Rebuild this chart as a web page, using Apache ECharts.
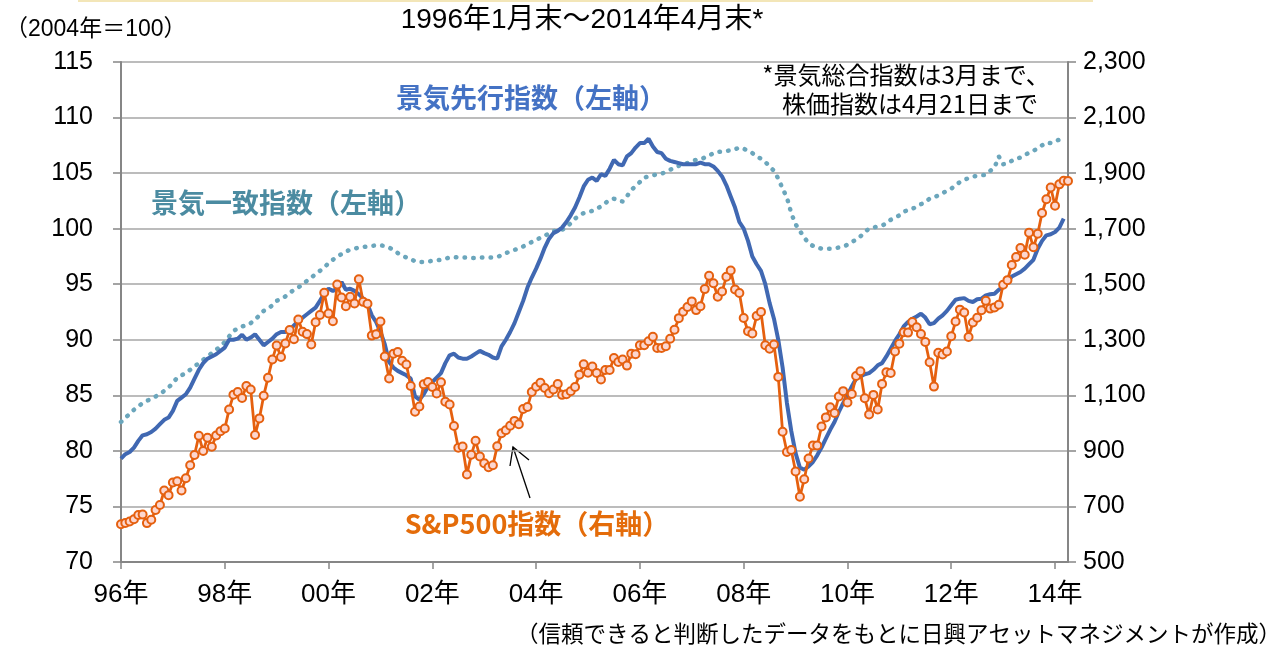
<!DOCTYPE html>
<html>
<head>
<meta charset="utf-8">
<script src="https://cdn.jsdelivr.net/npm/echarts@6/dist/echarts.min.js"></script>
<style>
  html, body { margin: 0; padding: 0; background: #fff; }
  #chart { width: 1285px; height: 647px; }
</style>
</head>
<body>
<div id="chart"></div>
<script>
// months 1996/01 .. 2014/04
const months = [];
for (let y = 1996; y <= 2014; y++) {
  for (let m = 1; m <= 12; m++) {
    if (y === 2014 && m > 4) break;
    months.push(y + '/' + (m < 10 ? '0' + m : m));
  }
}

// Leading index (2004=100), to 2014/03
const leading = [
  79.3, 79.7, 79.9, 80.3, 80.9, 81.4, 81.5, 81.7, 82.0, 82.4, 82.8, 83.0,
  83.6, 84.5, 84.8, 85.1, 85.7, 86.5, 87.3, 87.9, 88.3, 88.5, 88.7, 89.0,
  89.3, 90.0, 90.0, 90.1, 90.45, 90.0, 90.2, 90.5, 90.0, 89.5, 89.8, 90.1,
  90.5, 90.7, 90.7, 90.9, 91.3, 91.7, 92.0, 92.3, 92.6, 92.9, 93.5, 94.2,
  94.6, 94.4, 94.6, 95.2, 94.5, 94.6, 94.4, 94.1, 93.7, 93.2, 92.2, 91.6,
  90.7, 89.6, 88.0, 87.5, 87.2, 87.0, 86.8, 86.5, 84.9, 84.6, 85.1, 85.8,
  86.2, 86.6, 87.0, 87.9, 88.6, 88.75, 88.4, 88.3, 88.3, 88.5, 88.75, 89.0,
  88.8, 88.65, 88.4, 88.3, 89.4, 90.0, 90.7, 91.5, 92.5, 93.5, 94.7, 95.6,
  96.4, 97.3, 98.3, 99.1, 99.6, 99.8, 100.1, 100.6, 101.2, 101.9, 102.8, 103.8,
  104.4, 104.6, 104.3, 104.9, 104.75, 105.4, 106.2, 105.8, 105.7, 106.5, 106.8, 107.3,
  107.7, 107.7, 108.1, 107.4, 106.9, 106.8, 106.3, 106.1, 106.0, 105.9, 105.8, 105.8,
  105.8, 105.8, 105.95, 105.8, 105.8, 105.6, 105.2, 104.7, 103.9, 102.9, 101.9, 100.6,
  100.0, 98.9, 97.5, 96.8, 96.2, 95.0, 93.3, 91.9, 90.0, 87.5, 84.3, 81.8,
  79.8, 78.5, 78.3, 78.6, 79.0, 79.6, 80.3, 81.1, 81.9, 82.6, 83.5, 84.3,
  85.0, 85.8, 86.5, 86.7, 86.9, 87.0, 87.3, 87.7, 87.9, 88.5, 89.2, 89.9,
  90.5, 91.2, 91.6, 91.9, 92.1, 92.35, 92.0, 91.4, 91.5, 91.9, 92.2, 92.6,
  93.1, 93.6, 93.7, 93.75, 93.5, 93.4, 93.65, 93.7, 94.0, 94.1, 94.15, 94.5,
  94.8, 95.2, 95.7, 95.9, 96.1, 96.4, 96.8, 97.2, 98.2, 98.9, 99.4, 99.5,
  99.7, 100.1, 100.9
];

// Coincident index (2004=100), to 2014/03
const coincident = [
  82.6, 83.0, 83.3, 83.7, 84.0, 84.3, 84.5, 84.7, 84.9, 85.1, 85.4, 85.7,
  86.1, 86.6, 86.8, 87.0, 87.3, 87.6, 87.9, 88.2, 88.5, 88.8, 89.1, 89.4,
  89.8, 90.3, 90.8, 91.0, 91.2, 91.3, 91.5, 91.8, 92.2, 92.6, 92.8, 93.1,
  93.5, 93.7, 93.9, 94.2, 94.5, 94.7, 95.0, 95.3, 95.6, 95.9, 96.2, 96.5,
  96.9, 97.2, 97.5, 97.7, 97.95, 98.1, 98.2, 98.3, 98.35, 98.4, 98.45, 98.5,
  98.5, 98.45, 98.3, 98.1, 97.8, 97.6, 97.4, 97.3, 97.05, 97.0, 97.0, 97.05,
  97.1, 97.15, 97.2, 97.3, 97.4, 97.45, 97.4, 97.4, 97.4, 97.35, 97.35, 97.4,
  97.4, 97.4, 97.4, 97.45, 97.6, 97.8, 97.95, 98.1, 98.2, 98.4, 98.6, 98.8,
  98.95, 99.2, 99.35, 99.6, 99.8, 99.8, 99.9, 100.1, 100.5, 100.9, 101.2, 101.4,
  101.5, 101.6, 101.8, 102.0, 102.3, 102.6, 102.7, 102.5, 102.45, 102.9, 103.5, 103.8,
  104.2, 104.6, 104.7, 104.8, 104.9, 104.95, 105.1, 105.3, 105.5, 105.65, 105.8, 105.9,
  106.05, 106.2, 106.25, 106.4, 106.55, 106.8, 106.9, 106.95, 107.0, 107.05, 107.15, 107.3,
  107.2, 107.0, 106.8, 106.5, 106.3, 106.0, 105.6, 105.2, 104.5, 103.6, 102.8, 101.4,
  100.4, 99.8, 99.2, 98.7, 98.45, 98.3, 98.2, 98.2, 98.2, 98.25, 98.3, 98.4,
  98.55, 98.8, 99.0, 99.3, 99.7, 100.0, 100.1, 100.2, 100.3, 100.45, 100.8, 101.0,
  101.2, 101.5, 101.7, 101.8, 101.95, 102.2, 102.4, 102.7, 102.8, 103.0, 103.2, 103.4,
  103.6, 103.9, 104.2, 104.4, 104.55, 104.7, 104.75, 104.8, 104.85, 105.2, 105.5, 106.5,
  105.8, 105.85, 106.1, 106.3, 106.4, 106.6, 106.85, 107.0, 107.25, 107.5, 107.75, 107.7,
  107.9, 108.0, 108.3
];

// S&P500 month-end (last point 2014/04/21)
const sp500 = [
  636.0, 640.4, 645.5, 654.2, 669.1, 670.6, 640.0, 652.0, 687.3, 705.3, 757.0, 740.7,
  786.2, 790.8, 757.1, 801.3, 848.3, 885.1, 954.3, 899.5, 947.3, 914.6, 955.4, 970.4,
  980.3, 1049.3, 1101.8, 1111.8, 1090.8, 1133.8, 1120.7, 957.3, 1017.0, 1098.7, 1163.6, 1229.2,
  1279.6, 1238.3, 1286.4, 1335.2, 1301.8, 1372.7, 1328.7, 1320.4, 1282.7, 1362.9, 1388.9, 1469.3,
  1394.5, 1366.4, 1498.6, 1452.4, 1420.6, 1454.6, 1430.8, 1517.7, 1436.5, 1429.4, 1315.0, 1320.3,
  1366.0, 1239.9, 1160.3, 1249.5, 1255.8, 1224.4, 1211.2, 1133.6, 1040.9, 1059.8, 1139.5, 1148.1,
  1130.2, 1106.7, 1147.4, 1076.9, 1067.1, 989.8, 911.6, 916.1, 815.3, 885.8, 936.3, 879.8,
  855.7, 841.2, 848.2, 916.9, 963.6, 974.5, 990.3, 1008.0, 996.0, 1050.7, 1058.2, 1111.9,
  1131.1, 1144.9, 1126.2, 1107.3, 1120.7, 1140.8, 1101.7, 1104.2, 1114.6, 1130.2, 1173.8, 1211.9,
  1181.3, 1203.6, 1180.6, 1156.9, 1191.5, 1191.3, 1234.2, 1220.3, 1228.8, 1207.0, 1249.5, 1248.3,
  1280.1, 1280.7, 1294.8, 1310.6, 1270.1, 1270.2, 1276.7, 1303.8, 1335.9, 1377.9, 1400.6, 1418.3,
  1438.2, 1406.8, 1420.9, 1482.4, 1530.6, 1503.4, 1455.3, 1474.0, 1526.8, 1549.4, 1481.1, 1468.4,
  1378.6, 1330.6, 1322.7, 1385.6, 1400.4, 1280.0, 1267.4, 1282.8, 1166.4, 968.8, 896.2, 903.3,
  825.9, 735.1, 797.9, 872.8, 919.1, 919.3, 987.5, 1020.6, 1057.1, 1036.2, 1095.6, 1115.1,
  1073.9, 1104.5, 1169.4, 1186.7, 1089.4, 1030.7, 1101.6, 1049.3, 1141.2, 1183.3, 1180.6, 1257.6,
  1286.1, 1327.2, 1325.8, 1363.6, 1345.2, 1320.6, 1292.3, 1218.9, 1131.4, 1253.3, 1247.0, 1257.6,
  1312.4, 1365.7, 1408.5, 1397.9, 1310.3, 1362.2, 1379.3, 1406.6, 1440.7, 1412.2, 1416.2, 1426.2,
  1498.1, 1514.7, 1569.2, 1597.6, 1630.7, 1606.3, 1685.7, 1633.0, 1681.6, 1756.5, 1805.8, 1848.4,
  1782.6, 1859.5, 1872.3, 1871.9
];

const FONT = '"Liberation Sans", Arial, "Noto Sans CJK JP", sans-serif';
const JFONT = '"Noto Sans CJK JP", "Liberation Sans", sans-serif';
const axisGray = '#868686';

const option = {
  animation: false,
  backgroundColor: '#ffffff',
  grid: { left: 121, right: 217, top: 62, bottom: 85 },
  xAxis: {
    type: 'category',
    data: months,
    boundaryGap: false,
    axisLine: { lineStyle: { color: axisGray, width: 2 } },
    axisTick: { interval: 23, length: 7, lineStyle: { color: axisGray, width: 1.5 } },
    axisLabel: {
      interval: 23,
      margin: 20,
      fontSize: 26,
      fontFamily: FONT,
      color: '#000',
      formatter: v => v.slice(2, 4) + '年'
    },
    splitLine: { show: false }
  },
  yAxis: [
    {
      type: 'value',
      min: 70, max: 115, interval: 5,
      axisLine: { show: true, lineStyle: { color: axisGray, width: 2 } },
      axisTick: { show: true, length: 8, lineStyle: { color: axisGray, width: 1.5 } },
      axisLabel: { margin: 28, fontSize: 25, fontFamily: FONT, color: '#000' },
      splitLine: { lineStyle: { color: '#a6a6a6', width: 1.5 } }
    },
    {
      type: 'value',
      min: 500, max: 2300, interval: 200,
      axisLine: { show: true, lineStyle: { color: axisGray, width: 2 } },
      axisTick: { show: true, length: 8, lineStyle: { color: axisGray, width: 1.5 } },
      axisLabel: {
        margin: 15, fontSize: 25, fontFamily: FONT, color: '#000',
        formatter: v => v.toLocaleString('en-US')
      },
      splitLine: { show: false }
    }
  ],
  series: [
    {
      name: '景気一致指数',
      type: 'line',
      data: coincident,
      showSymbol: false,
      lineStyle: { color: '#6ba6bc', width: 4.5, type: [0.5, 8.2], cap: 'round' },
      z: 2
    },
    {
      name: '景気先行指数',
      type: 'line',
      data: leading,
      showSymbol: false,
      lineStyle: { color: '#4068b2', width: 4 },
      z: 3
    },
    {
      name: 'S&P500指数',
      type: 'line',
      yAxisIndex: 1,
      data: sp500,
      symbol: 'circle',
      symbolSize: 8,
      showAllSymbol: true,
      lineStyle: { color: '#e5600f', width: 2.8 },
      itemStyle: { color: '#fcd6cf', borderColor: '#e5600f', borderWidth: 2 },
      z: 4
    }
  ],
  graphic: [
    { type: 'rect', shape: { x: 78, y: 0, width: 1015, height: 2 }, style: { fill: '#f3e6b8' } },
    { type: 'text', x: 5, y: 30, style: { text: '（2004年＝100）', font: '23px ' + FONT, fill: '#000', verticalAlign: 'middle' } },
    { type: 'text', x: 582, y: 20, style: { text: '1996年1月末～2014年4月末*', font: '28px ' + FONT, fill: '#000', align: 'center', verticalAlign: 'middle' } },
    { type: 'text', x: 531, y: 98, style: { text: '景気先行指数（左軸）', font: 'bold 27px ' + JFONT, fill: '#4472c4', align: 'center', verticalAlign: 'middle' } },
    { type: 'text', x: 286, y: 203, style: { text: '景気一致指数（左軸）', font: 'bold 27px ' + JFONT, fill: '#4b8ba1', align: 'center', verticalAlign: 'middle' } },
    { type: 'text', x: 537, y: 524, style: { text: 'S&P500指数（右軸）', font: 'bold 27px ' + JFONT, fill: '#e46c0a', align: 'center', verticalAlign: 'middle' } },
    { type: 'text', x: 906, y: 75, style: { text: '*景気総合指数は3月まで、', font: '24px ' + JFONT, fill: '#000', align: 'center', verticalAlign: 'middle' } },
    { type: 'text', x: 910, y: 104, style: { text: '株価指数は4月21日まで', font: '24px ' + JFONT, fill: '#000', align: 'center', verticalAlign: 'middle' } },
    { type: 'text', x: 1281, y: 633, style: { text: '（信頼できると判断したデータをもとに日興アセットマネジメントが作成）', font: '22.5px ' + JFONT, fill: '#000', align: 'right', verticalAlign: 'middle' } },
    { type: 'line', shape: { x1: 530, y1: 498, x2: 513, y2: 447 }, style: { stroke: '#000', lineWidth: 1.3 } },
    { type: 'polyline', shape: { points: [[510, 466], [513, 447], [529, 460]] }, style: { stroke: '#000', lineWidth: 1.3, fill: null } }
  ]
};

const chart = echarts.init(document.getElementById('chart'));
chart.setOption(option);
</script>
</body>
</html>
